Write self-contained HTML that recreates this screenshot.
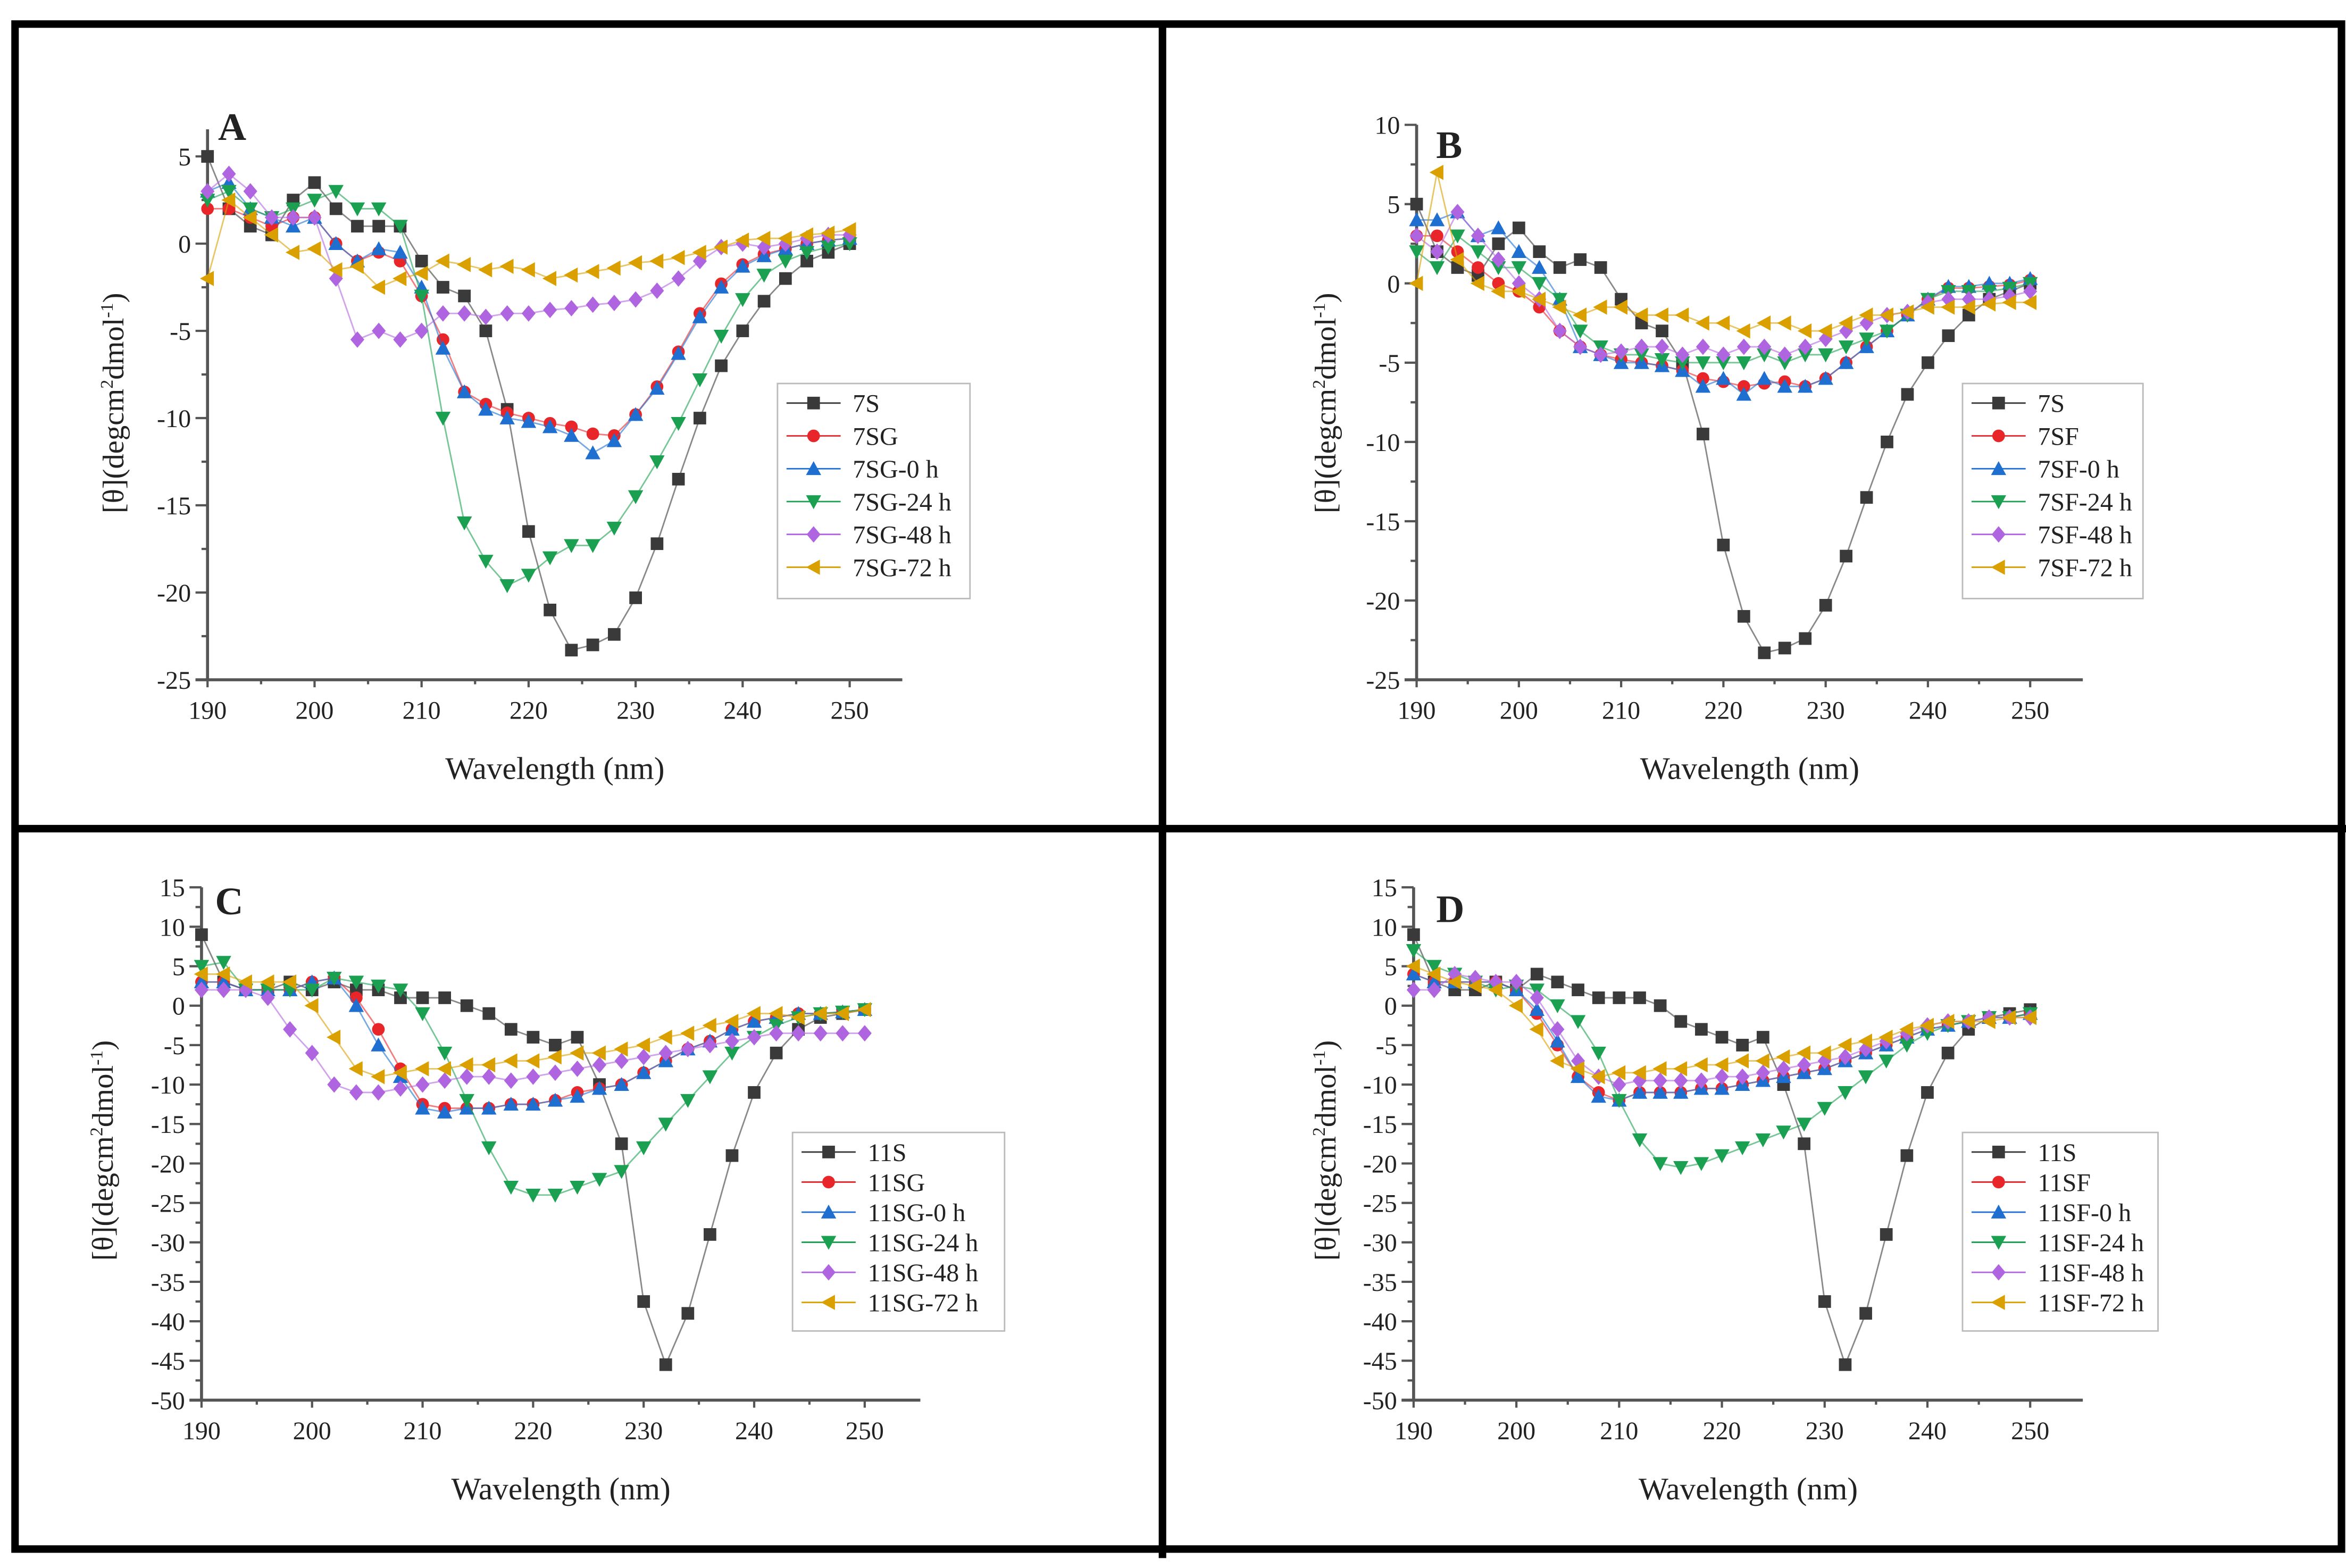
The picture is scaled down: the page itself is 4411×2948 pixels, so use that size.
<!DOCTYPE html>
<html><head><meta charset="utf-8"><style>
html,body{margin:0;padding:0;background:#fff;}
svg{display:block;}
text{font-family:"Liberation Serif",serif;fill:#222;}
</style></head><body>
<svg id="fig" width="4411" height="2948" viewBox="0 0 1560 1042.6" xmlns="http://www.w3.org/2000/svg">
<rect x="0" y="0" width="1560" height="1043" fill="#fff"/>
<g stroke="#000" stroke-width="5" fill="none">
<rect x="10" y="16" width="1547" height="1014"/>
<line x1="773" y1="14" x2="773" y2="1036"/>
<line x1="8" y1="551" x2="1560" y2="551"/>
</g>
</svg>
<script>
// shared wavelength categories (nm)
const wavelengths = [190,192,194,196,198,200,202,204,206,208,210,212,214,216,218,220,222,224,226,228,230,232,234,236,238,240,242,244,246,248,250];
// Panel A values
const a7S   = [5,2,1,0.5,2.5,3.5,2,1,1,1,-1,-2.5,-3,-5,-9.5,-16.5,-21,-23.3,-23,-22.4,-20.3,-17.2,-13.5,-10,-7,-5,-3.3,-2,-1,-0.5,0];
const a7SG  = [2,2,1.5,1,1.5,1.5,0,-1,-0.5,-1,-3,-5.5,-8.5,-9.2,-9.7,-10,-10.3,-10.5,-10.9,-11,-9.8,-8.2,-6.2,-4,-2.3,-1.2,-0.6,-0.3,0,0.2,0.3];
const a7SG0 = [3,3.5,2,1.5,1,1.5,0,-1,-0.3,-0.5,-2.5,-6,-8.5,-9.5,-10,-10.2,-10.5,-11,-12,-11.3,-9.8,-8.3,-6.3,-4.2,-2.5,-1.3,-0.7,-0.3,0,0.2,0.3];
const a7SG24= [2.5,3,2,1.5,2,2.5,3,2,2,1,-3,-10,-16,-18.2,-19.6,-19,-18,-17.3,-17.3,-16.3,-14.5,-12.5,-10.3,-7.8,-5.3,-3.2,-1.8,-1,-0.5,-0.2,0];
const a7SG48= [3,4,3,1.5,1.5,1.5,-2,-5.5,-5,-5.5,-5,-4,-4,-4.2,-4,-4,-3.8,-3.7,-3.5,-3.4,-3.2,-2.7,-2,-1,-0.2,0,-0.2,0,0.3,0.5,0.5];
const a7SG72= [-2,2.5,1.5,0.5,-0.5,-0.3,-1.5,-1.3,-2.5,-2,-1.7,-1,-1.2,-1.5,-1.3,-1.5,-2,-1.8,-1.6,-1.4,-1.1,-1,-0.8,-0.5,-0.2,0.2,0.3,0.3,0.5,0.6,0.8];
// Panel B values
const b7S   = [5,2,1,0.5,2.5,3.5,2,1,1.5,1,-1,-2.5,-3,-5,-9.5,-16.5,-21,-23.3,-23,-22.4,-20.3,-17.2,-13.5,-10,-7,-5,-3.3,-2,-1,-0.5,0];
const b7SF  = [3,3,2,1,0,-0.5,-1.5,-3,-4,-4.5,-4.8,-5,-5.2,-5.5,-6,-6.2,-6.5,-6.3,-6.2,-6.5,-6,-5,-4,-3,-2,-1,-0.3,-0.3,-0.2,-0.1,0.2];
const b7SF0 = [4,4,4.5,3,3.5,2,1,-1,-4,-4.5,-5,-5,-5.2,-5.5,-6.5,-6,-7,-6,-6.5,-6.5,-6,-5,-4,-3,-2,-1,-0.2,-0.2,0,0,0.3];
const b7SF24= [2,1,3,2,1,1,0,-1,-3,-4,-4.5,-4.5,-4.8,-5,-5,-5,-5,-4.5,-5,-4.5,-4.5,-4,-3.5,-3,-2,-1,-0.5,-0.5,-0.5,-0.3,0];
const b7SF48= [3,2,4.5,3,1.5,0,-1,-3,-4,-4.5,-4.3,-4,-4,-4.5,-4,-4.5,-4,-4,-4.5,-4,-3.5,-3,-2.5,-2,-1.8,-1.2,-1,-1,-1,-0.8,-0.5];
const b7SF72= [0,7,1.5,0,-0.5,-0.5,-1,-1.5,-2,-1.5,-1.5,-2,-2,-2,-2.5,-2.5,-3,-2.5,-2.5,-3,-3,-2.5,-2,-2,-1.8,-1.5,-1.5,-1.5,-1.3,-1.2,-1.2];
// Panel C values
const c11S   = [9,3,2,2,3,2,3,2,2,1,1,1,0,-1,-3,-4,-5,-4,-10,-17.5,-37.5,-45.5,-39,-29,-19,-11,-6,-3,-1.5,-1,-0.5];
const c11SG  = [3,3,2,2,2,3,3.5,1,-3,-8,-12.5,-13,-13,-13,-12.5,-12.5,-12,-11,-10.5,-10,-8.5,-7,-5.5,-4.5,-3,-2,-1.5,-1,-1,-0.8,-0.5];
const c11SG0 = [3,3,2,2,2,3,3.5,0,-5,-9,-13,-13.5,-13,-13,-12.5,-12.5,-12,-11.5,-10.5,-10,-8.5,-7,-5.5,-4.5,-3,-2,-1.5,-1,-1,-0.8,-0.5];
const c11SG24= [5,5.5,2,2,2,2,3.5,3,2.5,2,-1,-6,-12,-18,-23,-24,-24,-23,-22,-21,-18,-15,-12,-9,-6,-4,-2.5,-1.5,-1,-0.8,-0.5];
const c11SG48= [2,2,2,1,-3,-6,-10,-11,-11,-10.5,-10,-9.5,-9,-9,-9.5,-9,-8.5,-8,-7.5,-7,-6.5,-6,-5.5,-5,-4.5,-4,-3.5,-3.5,-3.5,-3.5,-3.5];
const c11SG72= [4,4,3,3,3,0,-4,-8,-9,-8.5,-8,-8,-7.5,-7.5,-7,-7,-6.5,-6,-6,-5.5,-5,-4,-3.5,-2.5,-2,-1,-1,-1.5,-1,-1,-0.5];
// Panel D values
const d11S   = [9,3,2,2,3,2,4,3,2,1,1,1,0,-2,-3,-4,-5,-4,-10,-17.5,-37.5,-45.5,-39,-29,-19,-11,-6,-3,-1.5,-1,-0.5];
const d11SF  = [4,3,3,3,3,2,-1,-5,-9,-11,-12,-11,-11,-11,-10.5,-10.5,-10,-9.5,-9,-8.5,-8,-7,-6,-5,-4,-3,-2.5,-2,-1.5,-1.5,-1];
const d11SF0 = [4,3,3,3,3,2,-0.5,-4.5,-9,-11.5,-12,-11,-11,-11,-10.5,-10.5,-10,-9.5,-9,-8.5,-8,-7,-6,-5,-4,-3,-2.5,-2,-1.5,-1.5,-1];
const d11SF24= [7,5,4,3,2,2.5,2,0,-2,-6,-12,-17,-20,-20.5,-20,-19,-18,-17,-16,-15,-13,-11,-9,-7,-5,-3.5,-2.5,-2,-1.5,-1.5,-1];
const d11SF48= [2,2,4,3.5,3,3,1,-3,-7,-9,-10,-9.5,-9.5,-9.5,-9.5,-9,-9,-8.5,-8,-7.5,-7,-6.5,-5.5,-4.5,-3.5,-2.5,-2,-2,-1.5,-1.5,-1.5];
const d11SF72= [5,4,3,2.5,2,0,-3,-7,-8,-9,-8.5,-8.5,-8,-8,-7.5,-7.5,-7,-7,-6.5,-6,-6,-5,-4.5,-4,-3,-2.5,-2,-2,-2,-1.5,-1.5];
// tick labels
const xTicks = [190,200,210,220,230,240,250];
const yTicksA = [5,0,-5,-10,-15,-20,-25];
const yTicksB = [10,5,0,-5,-10,-15,-20,-25];
const yTicksCD = [15,10,5,0,-5,-10,-15,-20,-25,-30,-35,-40,-45,-50];
// legend names
const namesA = ['7S','7SG','7SG-0 h','7SG-24 h','7SG-48 h','7SG-72 h'];
const namesB = ['7S','7SF','7SF-0 h','7SF-24 h','7SF-48 h','7SF-72 h'];
const namesC = ['11S','11SG','11SG-0 h','11SG-24 h','11SG-48 h','11SG-72 h'];
const namesD = ['11S','11SF','11SF-0 h','11SF-24 h','11SF-48 h','11SF-72 h'];

const colors = ['#3a3a3a','#e8262a','#1f6fd1','#1aa050','#b065e0','#d9a000'];
const shapes = ['square','circle','up','down','diamond','left'];
const NS='http://www.w3.org/2000/svg';
const svg=document.getElementById('fig');
function mk(tag,attrs,parent){const e=document.createElementNS(NS,tag);for(const k in attrs)e.setAttribute(k,attrs[k]);(parent||svg).appendChild(e);return e;}
function marker(shape,cx,cy,r,col,parent){
  let e;
  if(shape==='square') e=mk('rect',{x:cx-r,y:cy-r,width:2*r,height:2*r,fill:col},parent);
  else if(shape==='circle') e=mk('circle',{cx:cx,cy:cy,r:r,fill:col},parent);
  else {
    let p;
    if(shape==='up') p=[[cx,cy-r*1.2],[cx+r*1.2,cy+r],[cx-r*1.2,cy+r]];
    else if(shape==='down') p=[[cx,cy+r*1.2],[cx+r*1.2,cy-r],[cx-r*1.2,cy-r]];
    else if(shape==='diamond') p=[[cx,cy-r*1.3],[cx+r*1.1,cy],[cx,cy+r*1.3],[cx-r*1.1,cy]];
    else p=[[cx-r*1.2,cy],[cx+r,cy-r*1.2],[cx+r,cy+r*1.2]];
    e=mk('polygon',{points:p.map(q=>q.join(',')).join(' '),fill:col},parent);
  }
  return e;
}
const panels=[
 {id:'a',letter:'A',lx:145,ly:85,x0:138,x1:565,xEnd:600,yTop:86,v0:5,y0:104,v1:-25,y1:452,ticks:yTicksA,minor:[5,-25],series:[a7S,a7SG,a7SG0,a7SG24,a7SG48,a7SG72],names:namesA,leg:{x:517,y:255,w:128,h:143},ylab:{x:82,y:268}},
 {id:'b',letter:'B',lx:955,ly:97,x0:942,x1:1350,xEnd:1385,yTop:83,v0:10,y0:83,v1:-25,y1:452,ticks:yTicksB,minor:[10,-25],series:[b7S,b7SF,b7SF0,b7SF24,b7SF48,b7SF72],names:namesB,leg:{x:1305,y:255,w:120,h:143},ylab:{x:888,y:268}},
 {id:'c',letter:'C',lx:143,ly:600,x0:134,x1:575,xEnd:612,yTop:590,v0:15,y0:590,v1:-50,y1:931,ticks:yTicksCD,minor:[15,-50],series:[c11S,c11SG,c11SG0,c11SG24,c11SG48,c11SG72],names:namesC,leg:{x:527,y:753,w:141,h:132},ylab:{x:75,y:765}},
 {id:'d',letter:'D',lx:955,ly:605,x0:940,x1:1350,xEnd:1385,yTop:590,v0:15,y0:590,v1:-50,y1:931,ticks:yTicksCD,minor:[15,-50],series:[d11S,d11SF,d11SF0,d11SF24,d11SF48,d11SF72],names:namesD,leg:{x:1305,y:753,w:130,h:132},ylab:{x:888,y:765}}
];
panels.forEach(P=>{
  const g=mk('g',{});
  
  
  const X=v=>P.x0+(v-190)*(P.x1-P.x0)/60;
  const Y=v=>P.y0+(v-P.v0)*(P.y1-P.y0)/(P.v1-P.v0);
  // axes
  const ax=mk('g',{stroke:'#555','stroke-width':2,fill:'none'},g);
  
  
  mk('line',{x1:P.x0,y1:P.yTop,x2:P.x0,y2:P.y1},ax);
  mk('line',{x1:P.x0-8,y1:P.y1,x2:P.xEnd,y2:P.y1},ax);
  for(let v=P.minor[0];v>=P.minor[1]-0.01;v-=2.5){
    const major=Math.abs(v%5)<0.01;
    mk('line',{x1:P.x0-(major?8:4),y1:Y(v),x2:P.x0,y2:Y(v),'stroke-width':1.5},ax);
  }
  for(let w=190;w<=250;w+=5){mk('line',{x1:X(w),y1:P.y1,x2:X(w),y2:P.y1+(w%10===0?5:3),'stroke-width':1.5},ax);}
  P.ticks.forEach(v=>{
    const t=mk('text',{x:P.x0-11,y:Y(v)+6,'text-anchor':'end','font-size':17},g);
    
    
    t.textContent=v;
  });
  xTicks.forEach(v=>{
    const t=mk('text',{x:X(v),y:P.y1+26,'text-anchor':'middle','font-size':17},g);
    
    
    t.textContent=v;
  });
  const xt=mk('text',{x:(P.x0+P.xEnd)/2,y:P.y1+66,'text-anchor':'middle','font-size':21},g);
  
  
  xt.textContent='Wavelength (nm)';
  const yt=mk('text',{x:P.ylab.x,y:P.ylab.y,'text-anchor':'middle','font-size':20,transform:'rotate(-90 '+P.ylab.x+' '+P.ylab.y+')'},g);
  
  
  yt.innerHTML='[θ](degcm<tspan dy="-7" font-size="12">2</tspan><tspan dy="7">dmol</tspan><tspan dy="-7" font-size="12">-1</tspan><tspan dy="7">)</tspan>';
  const lt=mk('text',{x:P.lx,y:P.ly+8,'font-size':26,'font-weight':'bold'},g);
  
  
  lt.textContent=P.letter;
  // series
  P.series.forEach((vals,si)=>{
    const sg=mk('g',{},g);
    
    
    const pts=vals.map((v,i)=>X(wavelengths[i])+','+Y(v)).join(' ');
    mk('polyline',{points:pts,fill:'none',stroke:colors[si],'stroke-width':1,'stroke-opacity':0.6},sg);
    vals.forEach((v,i)=>{
      const m=marker(shapes[si],X(wavelengths[i]),Y(v),4.2,colors[si],sg);
      
      
    });
  });
  // legend
  const L=P.leg;
  const lg=mk('g',{},g);
  
  
  mk('rect',{x:L.x,y:L.y,width:L.w,height:L.h,fill:'#fff',stroke:'#bbb','stroke-width':1},lg);
  const step=(L.h-12)/6;
  P.names.forEach((n,i)=>{
    const yy=L.y+13+step*i;
    const e=mk('g',{},lg);
    
    
    mk('line',{x1:L.x+6,y1:yy,x2:L.x+42,y2:yy,stroke:colors[i],'stroke-width':1},e);
    marker(shapes[i],L.x+24,yy,4.2,colors[i],e);
    const t=mk('text',{x:L.x+50,y:yy+6,'font-size':17},e);
    t.textContent=n;
  });
});
</script>
</body></html>
